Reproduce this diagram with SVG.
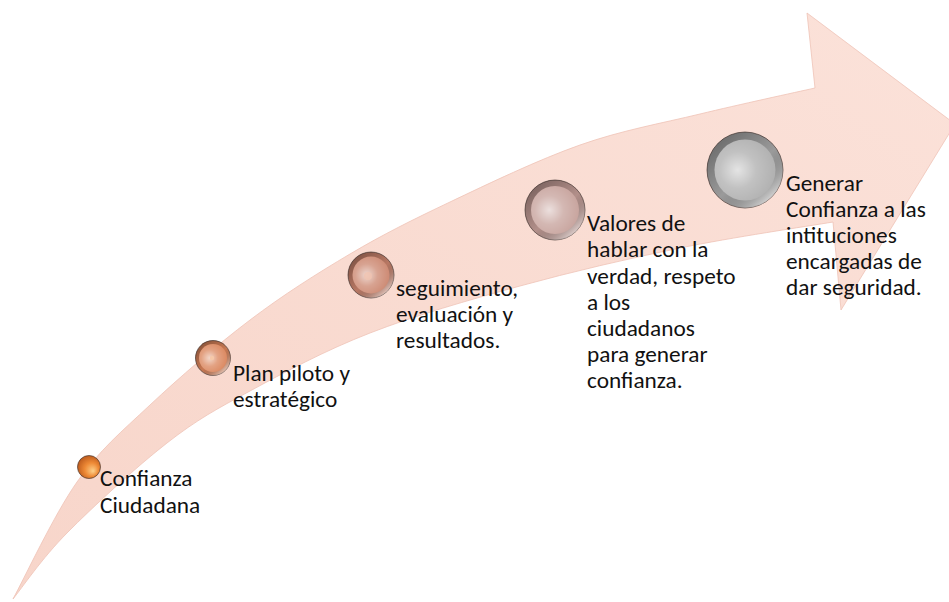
<svg xmlns="http://www.w3.org/2000/svg" width="949" height="602" viewBox="0 0 949 602">
<style>
.lbl{font-family:Carlito,Lato,"Liberation Sans",sans-serif;font-size:23.3px;fill:#111}
.rim{stroke:#4a3c38;stroke-width:0.7}
</style>
<defs>
<linearGradient id="arrowG" x1="0" y1="1" x2="1" y2="0">
<stop offset="0" stop-color="#F7D3C7"/>
<stop offset="1" stop-color="#FBE0D7"/>
</linearGradient>
<linearGradient id="rimG" x1="0.15" y1="0.1" x2="0.85" y2="0.9">
<stop offset="0" stop-color="#000" stop-opacity="0.35"/>
<stop offset="0.55" stop-color="#000" stop-opacity="0.08"/>
<stop offset="1" stop-color="#fff" stop-opacity="0.6"/>
</linearGradient>
<radialGradient id="hl" cx="0.38" cy="0.5" r="0.6">
<stop offset="0" stop-color="#fff" stop-opacity="0.65"/>
<stop offset="0.5" stop-color="#fff" stop-opacity="0.2"/>
<stop offset="1" stop-color="#fff" stop-opacity="0"/>
</radialGradient>
<radialGradient id="g1" cx="0.55" cy="0.55" r="0.6" fx="0.68" fy="0.68">
<stop offset="0" stop-color="#FDD08A"/>
<stop offset="0.5" stop-color="#EE8A36"/>
<stop offset="1" stop-color="#B8561A"/>
</radialGradient>
</defs>
<g id="connectors">
<path id="arrow" fill="url(#arrowG)" fill-opacity="0.95" stroke="#EFC3B6" stroke-width="0.8"
d="M13,599 C23.7,579.5 54.2,514.3 77,482 C99.8,449.7 121.2,432 150,405 C178.8,378 216.7,345.2 250,320 C283.3,294.8 316.7,273.7 350,254 C383.3,234.3 411.7,220.2 450,202 C488.3,183.8 538.3,159.7 580,145 C621.7,130.3 660.8,123.5 700,114 C739.2,104.5 795.8,92.3 815,88 L807,13 L955,124 L841,310 L833,222 C807.5,226.3 732.2,237.3 680,248 C627.8,258.7 571.7,271.8 520,286 C468.3,300.2 415,315.5 370,333 C325,350.5 283.8,372.7 250,391 C216.2,409.3 197.5,419.3 167,443 C136.5,466.7 92.7,507 67,533 C41.3,559 22,588 13,599 Z"/>
</g>
<g id="node1">
<circle cx="89" cy="467" r="11.5" fill="url(#g1)" class="rim"/>
<text class="lbl" x="100" y="486">Confianza</text>
<text class="lbl" x="100" y="513">Ciudadana</text>
</g>
<g id="node2">
<circle cx="213" cy="358" r="17.5" fill="#D9835A" class="rim"/>
<circle cx="213" cy="358" r="17.5" fill="url(#rimG)"/>
<circle cx="213" cy="358" r="14" fill="#DC8B64"/>
<circle cx="213" cy="358" r="14" fill="url(#hl)"/>
<circle cx="212" cy="358" r="2.2" fill="#F6C8A8"/>
<text class="lbl" x="233" y="381">Plan piloto y</text>
<text class="lbl" x="233" y="407">estratégico</text>
</g>
<g id="node3">
<circle cx="371" cy="275" r="23" fill="#C8826C" class="rim"/>
<circle cx="371" cy="275" r="23" fill="url(#rimG)"/>
<circle cx="371" cy="275" r="18.5" fill="#CE8C76"/>
<circle cx="371" cy="275" r="18.5" fill="url(#hl)"/>
<circle cx="368" cy="276" r="4" fill="#F0C3B0" fill-opacity="0.8"/>
<text class="lbl" x="396" y="296">seguimiento,</text>
<text class="lbl" x="396" y="322">evaluación y</text>
<text class="lbl" x="396" y="348">resultados.</text>
</g>
<g id="node4">
<circle cx="555" cy="210" r="30" fill="#C29C96" class="rim"/>
<circle cx="555" cy="210" r="30" fill="url(#rimG)"/>
<circle cx="555" cy="210" r="24" fill="#C9A6A0"/>
<circle cx="555" cy="210" r="24" fill="url(#hl)"/>
<text class="lbl" x="587" y="231">Valores de</text>
<text class="lbl" x="587" y="257">hablar con la</text>
<text class="lbl" x="587" y="283.5">verdad, respeto</text>
<text class="lbl" x="587" y="310">a los</text>
<text class="lbl" x="587" y="336">ciudadanos</text>
<text class="lbl" x="587" y="362">para generar</text>
<text class="lbl" x="587" y="388">confianza.</text>
</g>
<g id="node5">
<circle cx="745" cy="170" r="38" fill="#A8A8A8" class="rim"/>
<circle cx="745" cy="170" r="38" fill="url(#rimG)"/>
<circle cx="745" cy="170" r="30.5" fill="#B2B2B2"/>
<circle cx="745" cy="170" r="30.5" fill="url(#hl)"/>
<text class="lbl" x="786" y="191">Generar</text>
<text class="lbl" x="786" y="217">Confianza a las</text>
<text class="lbl" x="786" y="243">intituciones</text>
<text class="lbl" x="786" y="269">encargadas de</text>
<text class="lbl" x="786" y="295">dar seguridad.</text>
</g>
</svg>
